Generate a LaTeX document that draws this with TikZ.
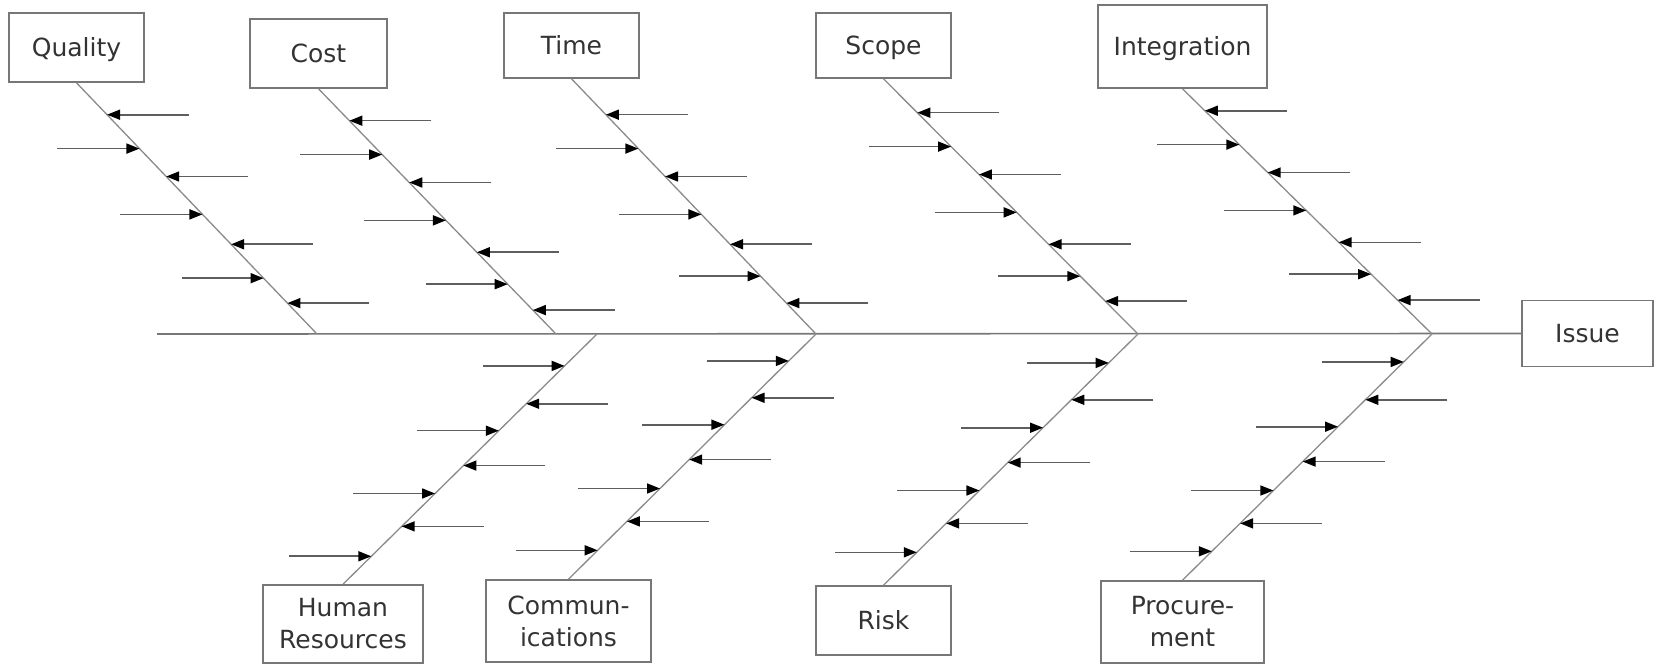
\documentclass[tikz,border=0pt]{standalone}
\usepackage{fontspec}
\setmainfont{DejaVu Sans}
\usetikzlibrary{arrows.meta,calc}
\definecolor{boxgray}{HTML}{777777}
\definecolor{linegray}{HTML}{8A8A8A}
\definecolor{ribgray}{HTML}{5E5E5E}
\definecolor{textgray}{HTML}{333333}

% ribs along one bone: #1,#2 end points, #3,#4 their y values,
% #5 list of y/direction (1 = arrow points left, -1 = points right)
\newcommand\boneribs[5]{%
  \foreach \yy/\dd in {#5}{%
    \pgfmathsetmacro\ribt{(\yy-#3)/(#4-#3)}%
    \draw[rib] ($(#1)!\ribt!(#2)+(\dd*82,0)$) -- ($(#1)!\ribt!(#2)$);
  }}

\begin{document}
\begin{tikzpicture}[x=1pt,y=-1pt,
  lbl/.style={draw=boxgray, line width=1.6pt, inner sep=0pt, align=center,
    text=textgray, font=\fontsize{25}{32}\selectfont},
  one/.style={lbl, text height=18pt, text depth=0pt},
  bone/.style={draw=linegray, line width=1.3pt},
  spine/.style={draw=boxgray, line width=1.6pt},
  rib/.style={draw=ribgray, line width=1.6pt,
    -{Triangle[length=13pt,width=10pt,color=black]}},
]
\useasboundingbox (0,0) rectangle (1654,664);

% category boxes above the spine
\node[one, minimum width=135pt, minimum height=69pt] (quality) at (76.5,47.5) {Quality};
\node[one, minimum width=137pt, minimum height=69pt] (cost) at (318.5,53.5) {Cost};
\node[one, minimum width=135pt, minimum height=65pt] (time) at (571.5,45.5) {Time};
\node[one, minimum width=135pt, minimum height=65pt] (scope) at (883.5,45.5) {Scope};
\node[one, minimum width=169pt, minimum height=83pt] (integ) at (1182.5,46.5) {Integration};

% category boxes below the spine
\node[lbl, minimum width=160pt, minimum height=78pt] (hr) at (343,624) {Human\\Resources};
\node[lbl, minimum width=165pt, minimum height=82pt] (comm) at (568.5,621) {Commun-\\ications};
\node[one, minimum width=135pt, minimum height=69pt] (risk) at (883.5,620.5) {Risk};
\node[lbl, minimum width=163pt, minimum height=82pt] (proc) at (1182.5,622) {Procure-\\ment};

% effect
\node[one, minimum width=131pt, minimum height=66pt] (issue) at (1587.5,333.5) {Issue};

% main spine
\coordinate (start) at (157,334);
\draw[spine] (start) -- (issue.west);

% joints on the spine
\coordinate (jq) at (317,334);
\coordinate (jc) at (556,334);
\coordinate (jh) at (597,334);
\coordinate (jt) at (816,334);
\coordinate (js) at (1138,334);
\coordinate (ji) at (1432,334);

% bones
\draw[bone] (quality.south) -- (jq);
\draw[bone] (cost.south) -- (jc);
\draw[bone] (time.south) -- (jt);
\draw[bone] (scope.south) -- (js);
\draw[bone] (integ.south) -- (ji);
\draw[bone] (jh) -- (hr.north);
\draw[bone] (jt) -- (comm.north);
\draw[bone] (js) -- (risk.north);
\draw[bone] (ji) -- (proc.north);

% ribs
\boneribs{quality.south}{jq}{82}{334}{114/1,148/-1,176/1,214/-1,244/1,278/-1,303/1}
\boneribs{cost.south}{jc}{88}{334}{120/1,154/-1,182/1,220/-1,252/1,284/-1,310/1}
\boneribs{time.south}{jt}{78}{334}{114/1,148/-1,176/1,214/-1,244/1,276/-1,303/1}
\boneribs{scope.south}{js}{78}{334}{112/1,146/-1,174/1,212/-1,244/1,276/-1,301/1}
\boneribs{integ.south}{ji}{88}{334}{110/1,144/-1,172/1,210/-1,242/1,274/-1,300/1}
\boneribs{jh}{hr.north}{334}{585}{366/-1,404/1,431/-1,466/1,494/-1,527/1,557/-1}
\boneribs{jt}{comm.north}{334}{580}{361/-1,398/1,425/-1,460/1,489/-1,522/1,551/-1}
\boneribs{js}{risk.north}{334}{586}{363/-1,400/1,428/-1,463/1,491/-1,524/1,553/-1}
\boneribs{ji}{proc.north}{334}{581}{362/-1,400/1,427/-1,462/1,491/-1,524/1,552/-1}
\end{tikzpicture}
\end{document}
